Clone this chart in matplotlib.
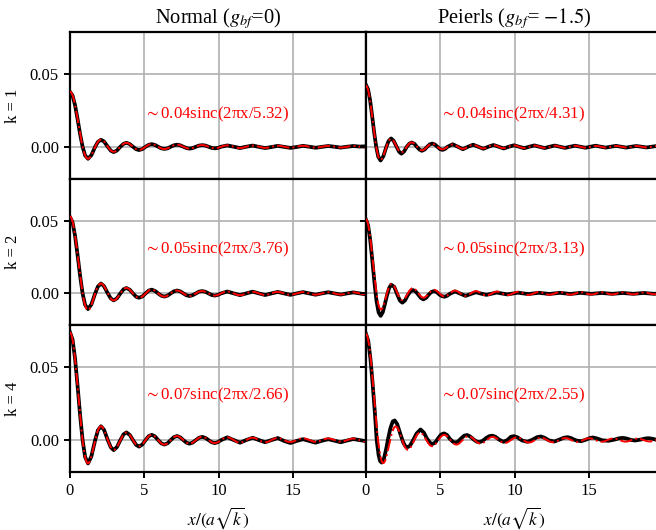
import numpy as np
import matplotlib
matplotlib.use('Agg')
import matplotlib.pyplot as plt

plt.rcParams['font.family'] = ['Liberation Serif', 'DejaVu Serif']
plt.rcParams['mathtext.fontset'] = 'stix'
plt.rcParams['axes.linewidth'] = 1.6

k_vals = [1, 2, 4]

# sinc fits: amplitude and wavelength for each k
normal_amp = [0.038, 0.053, 0.074]
normal_lam = [5.32, 3.76, 2.66]
peierls_amp = [0.042, 0.051, 0.073]
peierls_lam = [4.31, 3.13, 2.55]

# measured correlation, Normal case (same sampling for all k), values in 1e-3
normal_x = [0, 0.169, 0.339, 0.508, 0.677, 0.847, 1.016, 1.211, 1.439, 1.693,
            1.880, 2.083, 2.286, 2.540, 2.743, 2.938, 3.158, 3.387, 3.598, 3.793,
            4.022, 4.233, 4.445, 4.640, 4.868, 5.080, 5.292, 5.495, 5.715, 5.927,
            6.139, 6.350, 6.562, 6.773, 6.985, 7.197, 7.409, 7.620, 7.832, 8.043,
            8.255, 8.467, 8.679, 8.890, 9.102, 9.313, 9.525, 9.737, 9.949, 10.16,
            10.58, 11.01, 11.43, 11.85, 12.28, 12.70, 13.12, 13.55, 13.97, 14.39,
            14.82, 15.24, 15.66, 16.09, 16.51, 16.93, 17.36, 17.78, 18.20, 18.63,
            19.05, 19.47, 19.90]
normal_k1 = [37.8, 35.3, 28.6, 19.1, 8.8, 0, -6.0, -8.3, -5.8, 0,
             3.4, 4.8, 3.6, 0, -2.7, -3.7, -2.6, 0, 2.0, 2.7,
             1.8, 0, -1.7, -2.3, -1.6, 0, 1.3, 1.8, 1.2, 0,
             -1.1, -1.5, -1.1, 0, 1.0, 1.4, 1.0, 0, -0.9, -1.3,
             -0.9, 0, 0.8, 1.1, 0.8, 0, -0.8, -1.1, -0.8, 0,
             0.9, 0, -0.9, 0, 0.8, -0.1, -0.9, -0.2, 0.6, -0.1,
             -0.8, -0.2, 0.6, 0, -0.7, -0.1, 0.5, 0, -0.6, 0,
             0.5, 0.1, 0.3]
normal_k2 = [52.5, 49.1, 39.7, 26.5, 12.3, 0, -7.9, -10.8, -7.6, 0,
             4.8, 6.8, 5.0, 0, -3.5, -4.8, -3.4, 0, 2.8, 3.7,
             2.5, 0, -2.3, -3.0, -2.1, 0, 1.9, 2.6, 1.7, 0,
             -1.6, -2.2, -1.5, 0, 1.4, 2.0, 1.4, 0, -1.3, -1.8,
             -1.2, 0, 1.2, 1.6, 1.1, 0, -1.1, -1.5, -1.0, 0,
             1.3, 0, -1.2, 0, 1.2, 0, -1.1, 0, 1.0, 0,
             -1.0, 0, 0.9, 0, -0.9, 0, 0.8, 0, -0.8, 0,
             0.7, 0, -0.7]
normal_k4 = [74.2, 69.4, 56.2, 37.4, 17.4, 0, -11.6, -16.1, -11.2, 0,
             6.8, 9.5, 7.1, 0, -5.0, -6.9, -4.8, 0, 3.9, 5.3,
             3.5, 0, -3.3, -4.5, -3.0, 0, 2.7, 3.6, 2.5, 0,
             -2.3, -3.1, -2.2, 0, 2.0, 2.8, 1.9, 0, -1.8, -2.5,
             -1.7, 0, 1.6, 2.2, 1.5, 0, -1.5, -2.1, -1.4, 0,
             1.9, 0, -1.8, 0, 1.6, 0, -1.5, 0, 1.4, -0.6,
             -2.0, -0.6, 0.6, -0.6, -1.8, -0.5, 0.6, -0.4, -1.5, -0.3,
             0.7, 0, -0.8]

# measured correlation, Peierls case, values in 1e-3
peierls_k1_x = [0, 0.137, 0.274, 0.412, 0.549, 0.686, 0.823, 0.981, 1.166, 1.372,
                1.523, 1.688, 1.852, 2.058, 2.223, 2.380, 2.559, 2.744, 2.916, 3.073,
                3.259, 3.430, 3.602, 3.759, 3.945, 4.116, 4.288, 4.452, 4.631, 4.802,
                4.974, 5.145, 5.317, 5.488, 5.831, 6.174, 6.517, 6.860, 7.203, 7.546,
                7.889, 8.232, 8.575, 8.918, 9.261, 9.604, 9.947, 10.29, 10.63, 10.98,
                11.32, 11.66, 12.01, 12.35, 12.69, 13.03, 13.38, 13.72, 14.06, 14.41,
                14.75, 15.09, 15.44, 15.78, 16.12, 16.46, 16.81, 17.15, 17.49, 17.84,
                18.18, 18.52, 18.87, 19.21, 19.55, 19.89]
peierls_k1 = [42.5, 39.7, 32.2, 21.4, 9.9, 0, -6.8, -9.5, -6.6, 0,
              4.0, 5.7, 4.2, 0, -3.4, -4.8, -3.3, 0, 2.1, 2.9,
              2.0, -0.2, -2.0, -2.8, -1.9, 0, 1.6, 2.2, 1.5, 0,
              -1.6, -2.2, -1.5, 0, 1.7, 0, -1.7, 0, 1.4, 0,
              -1.4, 0, 1.2, 0, -1.2, 0, 1.0, 0, -1.0, 0,
              0.9, 0, -0.9, 0, 0.8, 0, -0.8, 0, 0.7, 0,
              -0.7, 0, 0.7, 0, -0.6, 0, 0.6, 0, -0.6, 0,
              0.5, 0, -0.5, 0, 0.5, 0]

peierls_k2_x = [0, 0.141, 0.282, 0.423, 0.564, 0.705, 0.845, 0.986, 1.127, 1.268,
                1.409, 1.550, 1.691, 1.902, 2.114, 2.283, 2.445, 2.628, 2.818, 2.994,
                3.156, 3.346, 3.523, 3.699, 3.861, 4.051, 4.227, 4.403, 4.572, 4.755,
                4.932, 5.108, 5.284, 5.460, 5.636, 5.988, 6.341, 6.693, 7.045, 7.397,
                7.750, 8.102, 8.454, 8.806, 9.159, 9.511, 9.863, 10.22, 10.57, 10.92,
                11.27, 11.62, 11.98, 12.33, 12.68, 13.03, 13.39, 13.74, 14.09, 14.44,
                14.80, 15.15, 15.50, 15.85, 16.20, 16.56, 16.91, 17.26, 17.61, 17.97,
                18.32, 18.67, 19.02, 19.37, 19.73]
peierls_k2 = [50.7, 47.0, 37.0, 23.0, 8.0, -5.0, -13.0, -15.5, -13.0, -7.5,
              -1.5, 3.5, 6.0, 4.5, -1.0, -5.0, -6.4, -4.8, -1.0, 1.4,
              2.3, 1.3, -1.0, -3.2, -4.1, -3.0, -0.7, 1.0, 1.6, 0.9,
              -0.8, -1.9, -2.3, -1.6, -0.3, 1.4, -0.2, -1.7, -0.4, 0.8,
              -0.2, -1.0, -0.2, 0.6, -0.1, -0.7, -0.1, 0.5, 0, -0.5,
              0, 0.4, 0, -0.4, 0, 0.4, 0, -0.4, 0, 0.4,
              0, -0.3, 0, 0.3, 0, -0.3, 0, 0.3, 0, -0.3,
              0, 0.3, 0, -0.3, 0]

peierls_k4_x = [0, 0.15, 0.3, 0.45, 0.6, 0.72, 0.85, 0.95, 1.06, 1.2,
                1.35, 1.5, 1.65, 1.8, 1.93, 2.1, 2.3, 2.5, 2.65, 2.77,
                2.95, 3.15, 3.4, 3.67, 3.9, 4.1, 4.3, 4.46, 4.65, 4.85,
                5.05, 5.25, 5.45, 5.65, 5.85, 6.0, 6.2, 6.4, 6.6, 6.8,
                7.0, 7.25, 7.45, 7.65, 7.85, 8.1, 8.3, 8.5, 8.7, 8.95,
                9.25, 9.5, 9.75, 9.95, 10.2, 10.5, 10.85, 11.2, 11.5, 11.76,
                12.0, 12.3, 12.66, 13.0, 13.3, 13.56, 13.8, 14.1, 14.46, 14.8,
                15.05, 15.25, 15.5, 15.9, 16.3, 16.75, 17.0, 17.28, 17.55, 17.8,
                18.1, 18.5, 18.8, 19.0, 19.3, 19.6, 19.9]
peierls_k4 = [73.1, 68.5, 56.0, 38.5, 18.5, 0, -10.5, -14.5, -15.5, -13.0,
              -6.5, 1.5, 8.5, 12.8, 13.5, 11.0, 4.5, -1.5, -4.3, -5.0,
              -4.0, -0.5, 4.5, 7.3, 5.0, 1.0, -1.8, -2.7, -1.8, 1.2,
              3.8, 4.6, 3.5, 0.7, -1.2, -1.8, -0.9, 1.2, 3.0, 3.5,
              2.5, 0.3, -1.1, -1.4, -0.5, 1.6, 2.7, 3.0, 2.3, 0.3,
              -1.2, 0, 2.3, 2.7, 1.8, -0.3, -1.2, 0.3, 2.0, 2.5,
              1.6, -0.2, -1.0, 0.3, 1.6, 2.0, 1.3, -0.2, -0.8, 0.3,
              1.4, 1.8, 1.2, -0.2, -0.5, 0.4, 1.2, 1.5, 1.0, 0.1,
              -0.3, 0.4, 1.1, 1.3, 0.8, 0, -0.2]

normal_data = [(normal_x, normal_k1), (normal_x, normal_k2), (normal_x, normal_k4)]
peierls_data = [(peierls_k1_x, peierls_k1), (peierls_k2_x, peierls_k2),
                (peierls_k4_x, peierls_k4)]
text_y = [0.022, 0.030, 0.031]

fig, axes = plt.subplots(3, 2, sharex=True, sharey=True, figsize=(6.56, 5.3), dpi=100)
fig.subplots_adjust(left=0.1067, right=1.0091, bottom=0.1094, top=0.9396,
                    wspace=0, hspace=0)

xfit = np.linspace(0, 19.9, 1200)
columns = [(normal_data, normal_amp, normal_lam), (peierls_data, peierls_amp, peierls_lam)]
for col, (data, amps, lams) in enumerate(columns):
    for row, k in enumerate(k_vals):
        ax = axes[row, col]
        xs, ys = data[row]
        ax.plot(xs, np.array(ys) * 1e-3, color='black', lw=2.7, zorder=3)
        A, lam = amps[row], lams[row]
        # x axis is scaled by sqrt(k), the fit is written in the unscaled x
        ax.plot(xfit, A * np.sinc(2 * np.pi * xfit / (lam * np.sqrt(k))),
                color='red', lw=1.4, ls='-.', zorder=4)
        ax.text(5.0, text_y[row], r'$\sim$' + f'{A:.2f}sinc(2πx/{lam:.2f})',
                color='red', fontsize=12.2, va='center', ha='left')
        ax.grid(True, color='#b0b0b0', lw=1.2)
        ax.set_axisbelow(True)
        ax.tick_params(labelsize=12, width=1.4, length=4.5)
        if col == 0:
            ax.set_ylabel(f'k = {k}', fontsize=12, labelpad=6)

axes[0, 0].set_xlim(0, 19.9)
axes[0, 0].set_ylim(-0.022, 0.079)
axes[0, 0].set_yticks([0.0, 0.05])
axes[0, 0].set_xticks([0, 5, 10, 15])
axes[0, 0].set_title(r'Normal ($g_{bf}$=0)', fontsize=14.8)
axes[0, 1].set_title(r'Peierls ($g_{bf}$= $-1.5$)', fontsize=14.8)
for ax in axes[2]:
    ax.set_xlabel(r'$x/(a\sqrt{k})$', fontsize=12.5)

fig.savefig('out.png', dpi=100)
